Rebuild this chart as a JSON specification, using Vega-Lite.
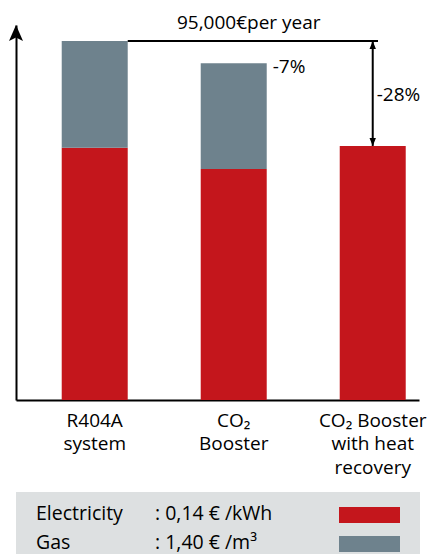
{
  "$schema": "https://vega.github.io/schema/vega-lite/v6.json",
  "autosize": {"type": "pad"},
  "bounds": "flush",
  "padding": {"left": 9, "top": 13, "right": 0, "bottom": 0},
  "background": "white",
  "spacing": 92,
  "config": {"view": {"stroke": null}, "font": "Open Sans"},
  "vconcat": [
    {
      "width": 403,
      "height": 375,
      "layer": [
        {
          "data": {"values": [
            {"system": "R404A|system", "energy": "Electricity", "cost": 66700},
            {"system": "R404A|system", "energy": "Gas", "cost": 28300},
            {"system": "CO₂|Booster", "energy": "Electricity", "cost": 61100},
            {"system": "CO₂|Booster", "energy": "Gas", "cost": 28000},
            {"system": "CO₂ Booster|with heat|recovery", "energy": "Electricity", "cost": 67200}
          ]},
          "mark": {"type": "bar"},
          "encoding": {
            "x": {
              "field": "system", "type": "nominal",
              "scale": {"domain": ["R404A|system", "CO₂|Booster", "CO₂ Booster|with heat|recovery"], "paddingInner": 0.5252, "paddingOuter": 0.2122, "align": 0.775},
              "axis": {"title": null, "ticks": false, "labelPadding": 11, "labelFontSize": 19, "labelFont": "Open Sans", "labelColor": "black", "labelLineHeight": 23.5, "labelAngle": 0, "labelExpr": "split(datum.label, '|')", "domainColor": "black", "domainWidth": 2}
            },
            "y": {
              "field": "cost", "type": "quantitative", "stack": "zero",
              "scale": {"domain": [0, 99200], "nice": false},
              "axis": {"title": null, "labels": false, "ticks": false, "grid": false, "domainColor": "black", "domainWidth": 2}
            },
            "color": {"field": "energy", "type": "nominal", "scale": {"domain": ["Electricity", "Gas"], "range": ["#C4161C", "#6E828D"]}, "legend": null},
            "order": {"field": "energy", "sort": "ascending"}
          }
        },
        {
          "data": {"values": [{}]},
          "mark": {"type": "rule", "strokeWidth": 2, "color": "black"},
          "encoding": {
            "x": {"datum": "R404A|system", "type": "nominal", "bandPosition": 1},
            "x2": {"datum": "CO₂ Booster|with heat|recovery", "bandPosition": 0.58},
            "y": {"datum": 95000, "type": "quantitative"}
          }
        },
        {
          "data": {"values": [{}]},
          "mark": {"type": "rule", "strokeWidth": 2, "color": "black"},
          "encoding": {
            "x": {"datum": "CO₂ Booster|with heat|recovery", "type": "nominal"},
            "y": {"datum": 95000, "type": "quantitative"},
            "y2": {"datum": 67200}
          }
        },
        {
          "data": {"values": [{}]},
          "mark": {"type": "point", "shape": "M0,0L0.8,2L-0.8,2Z", "filled": true, "color": "black", "opacity": 1, "size": 64, "strokeWidth": 0},
          "encoding": {
            "x": {"datum": "CO₂ Booster|with heat|recovery", "type": "nominal"},
            "y": {"datum": 95000, "type": "quantitative"}
          }
        },
        {
          "data": {"values": [{}]},
          "mark": {"type": "point", "shape": "M0,0L0.8,-2L-0.8,-2Z", "filled": true, "color": "black", "opacity": 1, "size": 64, "strokeWidth": 0},
          "encoding": {
            "x": {"datum": "CO₂ Booster|with heat|recovery", "type": "nominal"},
            "y": {"datum": 67200, "type": "quantitative"}
          }
        },
        {
          "data": {"values": [{}]},
          "mark": {"type": "point", "shape": "M0,0L1,2.3L0,1.8L-1,2.3Z", "filled": true, "color": "black", "opacity": 1, "size": 196, "strokeWidth": 0},
          "encoding": {
            "x": {"value": 0},
            "y": {"datum": 99200, "type": "quantitative"}
          }
        },
        {
          "data": {"values": [{"label": "95,000€per year"}]},
          "mark": {"type": "text", "align": "center", "baseline": "alphabetic", "dx": 15, "dy": -12, "fontSize": 19, "font": "Open Sans", "color": "black"},
          "encoding": {
            "x": {"datum": "CO₂|Booster", "type": "nominal", "bandPosition": 0.5},
            "y": {"datum": 95000, "type": "quantitative"},
            "text": {"field": "label"}
          }
        },
        {
          "data": {"values": [{"label": "-7%"}]},
          "mark": {"type": "text", "align": "left", "baseline": "alphabetic", "dx": 6, "dy": 10, "fontSize": 19, "font": "Open Sans", "color": "black"},
          "encoding": {
            "x": {"datum": "CO₂|Booster", "type": "nominal", "bandPosition": 1},
            "y": {"datum": 89100, "type": "quantitative"},
            "text": {"field": "label"}
          }
        },
        {
          "data": {"values": [{"label": "-28%"}]},
          "mark": {"type": "text", "align": "left", "baseline": "alphabetic", "dx": 4, "dy": 7, "fontSize": 19, "font": "Open Sans", "color": "black"},
          "encoding": {
            "x": {"datum": "CO₂ Booster|with heat|recovery", "type": "nominal"},
            "y": {"datum": 81000, "type": "quantitative"},
            "text": {"field": "label"}
          }
        }
      ]
    },
    {
      "width": 404,
      "height": 63,
      "view": {"fill": "#DDE0E1", "stroke": null},
      "data": {"values": [
        {"energy": "Electricity", "price": ": 0,14 € /kWh"},
        {"energy": "Gas", "price": ": 1,40 € /m³"}
      ]},
      "encoding": {
        "y": {"field": "energy", "type": "nominal", "scale": {"type": "point", "domain": ["Electricity", "Gas"], "padding": 0.586, "align": 0.676}, "axis": null}
      },
      "layer": [
        {
          "mark": {"type": "text", "align": "left", "baseline": "alphabetic", "dy": 5, "fontSize": 19.5, "font": "Open Sans", "color": "black"},
          "encoding": {"x": {"value": 20}, "text": {"field": "energy"}}
        },
        {
          "mark": {"type": "text", "align": "left", "baseline": "alphabetic", "dy": 5, "fontSize": 19.5, "font": "Open Sans", "color": "black"},
          "encoding": {"x": {"value": 139}, "text": {"field": "price"}}
        },
        {
          "mark": {"type": "bar", "height": 16},
          "encoding": {
            "x": {"value": 323},
            "x2": {"value": 384},
            "color": {"field": "energy", "type": "nominal", "scale": {"domain": ["Electricity", "Gas"], "range": ["#C4161C", "#6E828D"]}, "legend": null}
          }
        }
      ]
    }
  ]
}
